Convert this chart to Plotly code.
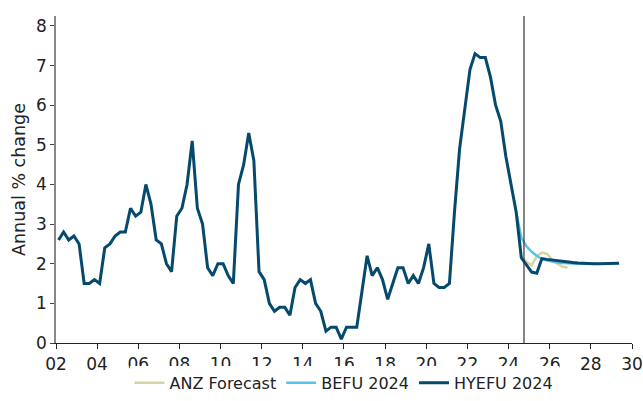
import plotly.graph_objects as go
import pandas as pd

# Quarterly annual % change, starting 2002 Q1 (history, through 2024 Q3)
history_start = "2002Q1"
history = [
    2.6, 2.8, 2.6, 2.7,   # 2002
    2.5, 1.5, 1.5, 1.6,   # 2003
    1.5, 2.4, 2.5, 2.7,   # 2004
    2.8, 2.8, 3.4, 3.2,   # 2005
    3.3, 4.0, 3.5, 2.6,   # 2006
    2.5, 2.0, 1.8, 3.2,   # 2007
    3.4, 4.0, 5.1, 3.4,   # 2008
    3.0, 1.9, 1.7, 2.0,   # 2009
    2.0, 1.7, 1.5, 4.0,   # 2010
    4.5, 5.3, 4.6, 1.8,   # 2011
    1.6, 1.0, 0.8, 0.9,   # 2012
    0.9, 0.7, 1.4, 1.6,   # 2013
    1.5, 1.6, 1.0, 0.8,   # 2014
    0.3, 0.4, 0.4, 0.1,   # 2015
    0.4, 0.4, 0.4, 1.3,   # 2016
    2.2, 1.7, 1.9, 1.6,   # 2017
    1.1, 1.5, 1.9, 1.9,   # 2018
    1.5, 1.7, 1.5, 1.9,   # 2019
    2.5, 1.5, 1.4, 1.4,   # 2020
    1.5, 3.3, 4.9, 5.9,   # 2021
    6.9, 7.3, 7.2, 7.2,   # 2022
    6.7, 6.0, 5.6, 4.7,   # 2023
    4.0, 3.3, 2.15,       # 2024
]

# HYEFU 2024 forecast, from 2024 Q3
hyefu_start = "2024Q3"
hyefu_fc = [2.15, 1.97, 1.79, 1.76, 2.13, 2.11, 2.09, 2.08, 2.06, 2.05,
            2.03, 2.02, 2.01, 2.0, 2.0, 2.0, 2.0, 2.0, 2.01, 2.01]

# BEFU 2024 forecast, from 2024 Q2
befu_start = "2024Q2"
befu_fc = [3.3, 2.66, 2.44, 2.3, 2.2, 2.12, 2.08, 2.05, 2.03, 2.02, 2.01,
           2.0, 2.0, 2.0, 2.0, 2.0, 2.0]

# ANZ forecast, from 2024 Q3
anz_start = "2024Q3"
anz_fc = [2.15, 2.05, 1.96, 2.19, 2.28, 2.25, 2.1, 2.0, 1.93, 1.9]

cutoff_date = "2024-10-01"

x_ticks_start = "2002-01-01"
x_end = "2030-01-01"


def quarter_dates(start, n):
    periods = pd.period_range(start=start, periods=n, freq="Q")
    # mid-quarter dates
    return [(p.start_time + pd.Timedelta(days=45)).strftime("%Y-%m-%d") for p in periods]


hist_x = quarter_dates(history_start, len(history))
hyefu_x = quarter_dates(hyefu_start, len(hyefu_fc))
befu_x = quarter_dates(befu_start, len(befu_fc))
anz_x = quarter_dates(anz_start, len(anz_fc))

c_anz = "#d9d2a3"
c_befu = "#58c3e6"
c_hyefu = "#054a6c"

fig = go.Figure()
fig.add_trace(go.Scatter(x=anz_x, y=anz_fc, mode="lines", name="ANZ Forecast",
                         line=dict(color=c_anz, width=2.5)))
fig.add_trace(go.Scatter(x=befu_x, y=befu_fc, mode="lines", name="BEFU 2024",
                         line=dict(color=c_befu, width=2.5)))
fig.add_trace(go.Scatter(x=hist_x[:-1] + hyefu_x, y=history[:-1] + hyefu_fc,
                         mode="lines", name="HYEFU 2024",
                         line=dict(color=c_hyefu, width=3)))

fig.add_shape(type="line", xref="x", yref="paper", x0=cutoff_date, x1=cutoff_date,
              y0=0, y1=1, line=dict(color="#333333", width=1.2))

font_family = "DejaVu Sans, Verdana, sans-serif"
fig.update_layout(
    width=643, height=401,
    margin=dict(l=56, r=11, t=16, b=58, autoexpand=False),
    paper_bgcolor="white", plot_bgcolor="white",
    font=dict(family=font_family, size=16, color="#222222"),
    showlegend=True,
    legend=dict(orientation="h", x=0.5, xanchor="center", y=-0.122, yanchor="middle",
                font=dict(size=16, color="#222222"), itemwidth=30,
                traceorder="normal"),
    xaxis=dict(type="date", range=[x_ticks_start, x_end], tick0=x_ticks_start,
               dtick="M24", tickformat="%y", showgrid=False, zeroline=False,
               showline=True, linecolor="#222222", linewidth=1.2,
               ticks="outside", ticklen=5, tickcolor="#222222", tickwidth=1,
               tickfont=dict(size=17), automargin=False,
               ticklabeloverflow="allow"),
    yaxis=dict(range=[0, 8.25], tick0=0, dtick=1, showgrid=False, zeroline=False,
               showline=True, linecolor="#888888", linewidth=1.5,
               ticks="outside", ticklen=4, tickcolor="#444444", tickwidth=1,
               tickfont=dict(size=17), automargin=False,
               title=dict(text="Annual % change", font=dict(size=17.5), standoff=6)),
)

# remove the default page margin so the figure fills the window exactly
fig.write_html("out.html",
               config={"displayModeBar": False},
               post_script="document.body.style.margin='0';document.body.style.overflow='hidden';")
